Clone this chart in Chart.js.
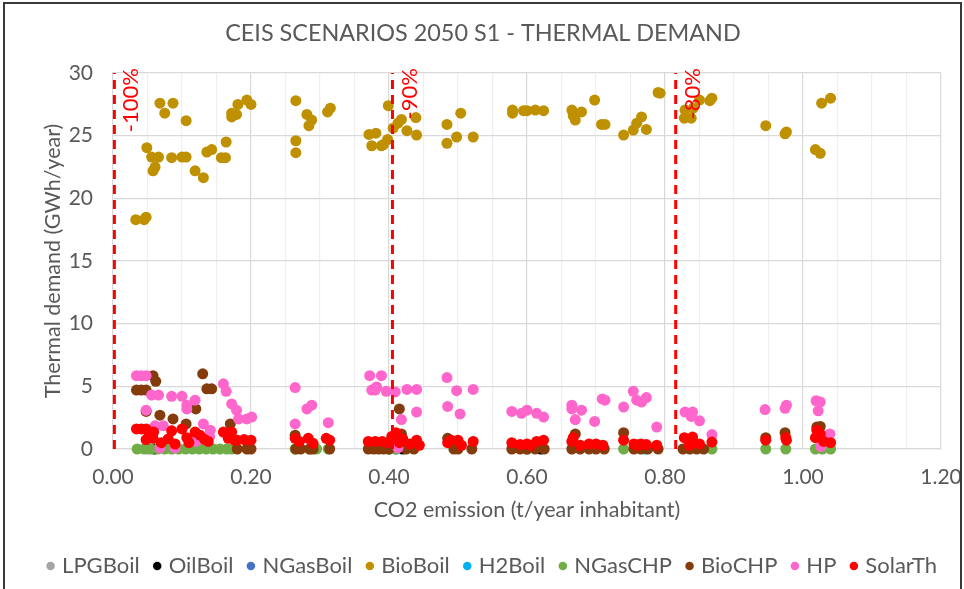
<!DOCTYPE html>
<html>
<head>
<meta charset="utf-8">
<script src="https://cdn.jsdelivr.net/npm/chart.js@4.4.1/dist/chart.umd.min.js"></script>
<style>
  html, body { margin: 0; padding: 0; background: #ffffff; }
  #wrap { position: absolute; left: 0; top: 0; width: 964px; height: 589px; }
</style>
</head>
<body>
<div id="wrap"><canvas id="c" width="964" height="589"></canvas></div>
<script>
// ---------- DATA ----------
const seriesNames = ['LPGBoil','OilBoil','NGasBoil','BioBoil','H2Boil','NGasCHP','BioCHP','HP','SolarTh'];

const lpgBoilX = [0.05, 0.40, 0.60];
const lpgBoilY = [0, 0, 0];
const oilBoilX = [0.06, 0.42, 0.62];
const oilBoilY = [0, 0, 0];
const nGasBoilX = [0.41];
const nGasBoilY = [0];
const h2BoilX = [0.771];
const h2BoilY = [0];

const bioBoilX = [0.033,0.045,0.048,0.049,0.056,0.066,0.061,0.058,0.068,0.075,0.087,0.085,0.100,0.106,0.106,0.119,0.131,0.136,0.143,0.157,0.163,0.164,0.172,0.179,0.172,0.181,0.194,0.200,
  0.265,0.281,0.288,0.284,0.265,0.265,0.311,0.315,0.371,0.381,0.375,0.389,0.398,0.399,0.392,0.406,0.413,0.418,0.426,0.439,0.440,
  0.484,0.484,0.504,0.498,0.522,0.579,0.579,0.595,0.600,0.612,0.624,0.665,0.667,0.670,0.679,0.698,0.708,0.713,0.740,0.754,0.759,0.766,0.773,0.790,0.793,
  0.828,0.838,0.829,0.841,0.850,0.865,0.868,0.946,0.974,0.976,1.018,1.025,1.027,1.040];
const bioBoilY = [18.3,18.3,18.5,24.05,23.3,23.3,22.5,22.2,27.6,26.8,27.6,23.25,23.3,23.3,26.2,22.2,21.65,23.7,23.9,23.25,23.25,24.5,26.5,26.7,26.8,27.5,27.85,27.5,
  27.8,26.7,26.25,25.8,24.6,23.65,26.9,27.2,25.1,25.2,24.2,24.2,24.7,27.4,24.3,25.6,26.0,26.3,25.4,26.45,25.05,
  25.9,24.4,26.8,24.9,24.9,27.05,26.8,27.0,27.0,27.05,27.0,27.05,26.6,26.25,26.9,27.85,25.9,25.9,25.05,25.45,26.0,26.5,25.5,28.45,28.4,
  26.4,26.4,27.05,27.2,27.85,27.8,28.0,25.8,25.15,25.3,23.9,23.6,27.6,28.0];

const nGasChpX = [0.035,0.045,0.055,0.065,0.075,0.085,0.095,0.105,0.115,0.125,0.135,0.145,0.155,0.165,0.172,0.264,0.285,0.295,0.312,0.40,0.41,0.60,0.74,0.868,0.946,0.975,1.018,1.028,1.040];
const nGasChpY = [0,0,0,0,0,0,0,0,0,0,0,0,0,0,0,0,0,0,0,0,0,0,0,0,0,0,0,0,0];

const bioChpX = [0.034,0.041,0.048,0.058,0.062,0.130,0.136,0.143,0.048,0.068,0.087,0.106,0.120,0.170,0.180,0.194,0.200,0.264,0.272,0.314,0.415,0.418,0.485,0.670,0.740,0.946,0.974,1.020,1.025,
  0.370,0.378,0.385,0.392,0.400,0.425,0.436,0.494,0.500,0.520,0.578,0.590,0.600,0.612,0.625,0.665,0.677,0.690,0.700,0.712,0.755,0.765,0.775,0.790,0.826,0.836,0.846,0.856,0.265,0.285,0.290];
const bioChpY = [4.7,4.7,4.7,5.85,5.4,6.0,4.8,4.8,3.0,2.7,2.4,2.0,3.2,2.0,0,0,0,1.1,0,0,3.2,1.2,0.85,1.2,1.3,0.9,1.3,1.75,1.8,
  0,0,0,0,0,0,0,0,0,0,0,0,0,0,0,0,0,0,0,0,0,0,0,0,0,0,0,0,0,0,0];

const hpX = [0.034,0.041,0.048,0.056,0.066,0.085,0.100,0.107,0.119,0.107,0.160,0.164,0.172,0.179,0.182,0.194,0.201,0.048,0.061,0.073,0.131,0.141,0.264,0.264,0.281,0.288,0.312,
  0.372,0.389,0.375,0.380,0.382,0.396,0.409,0.426,0.440,0.418,0.440,0.484,0.498,0.522,0.485,0.503,0.578,0.592,0.600,0.614,0.624,0.665,0.665,0.679,0.670,0.698,0.709,0.713,0.740,
  0.754,0.759,0.773,0.766,0.788,0.413,0.829,0.840,0.838,0.850,0.868,0.945,0.974,0.976,1.019,1.025,1.022,1.039,1.026,0.068,0.090,0.120,0.140];
const hpY = [5.85,5.85,5.85,4.3,4.3,4.2,4.2,3.5,3.9,3.2,5.2,4.6,3.6,3.1,2.4,2.4,2.55,3.1,1.85,1.85,2.0,1.5,4.9,2.0,3.2,3.5,2.1,
  5.85,5.85,4.7,4.7,4.95,4.6,4.55,4.75,4.75,2.35,2.95,5.7,4.65,4.75,3.4,2.8,3.0,2.85,3.1,2.85,2.55,3.5,3.2,3.1,2.35,2.2,4.0,3.9,3.35,
  4.6,3.9,4.1,3.75,1.75,0.1,2.95,2.95,2.6,2.25,1.15,3.15,3.25,3.5,3.85,3.75,3.05,1.2,0.2,0.1,0.1,0.6,1.0];

const solarThX = [0.034,0.041,0.048,0.052,0.059,0.058,0.048,0.085,0.100,0.107,0.119,0.126,0.133,0.138,0.160,0.167,0.172,0.176,0.180,0.190,0.200,0.264,0.270,0.283,0.290,0.309,0.314,
  0.370,0.380,0.070,0.080,0.090,0.110,0.390,0.398,0.404,0.410,0.415,0.420,0.430,0.440,0.444,0.485,0.490,0.500,0.505,0.522,0.578,0.590,0.600,0.605,0.614,0.624,
  0.665,0.667,0.677,0.690,0.700,0.710,0.740,0.755,0.760,0.765,0.773,0.788,0.828,0.840,0.842,0.850,0.835,0.868,0.946,0.975,0.976,1.020,1.025,1.018,1.030,1.040];
const solarThY = [1.6,1.6,1.6,1.3,1.35,0.85,0.75,1.45,1.6,0.9,1.35,1.1,0.75,0.6,1.35,0.85,1.35,0.7,0.7,0.75,0.7,0.85,0.6,0.85,0.45,0.85,0.7,
  0.6,0.6,0.5,0.8,0.4,0.5,0.6,0.5,1.0,1.3,0.5,0.8,0.4,0.7,0.3,0.5,0.7,0.7,0.3,0.6,0.5,0.35,0.4,0.3,0.6,0.7,
  0.6,0.9,0.3,0.4,0.4,0.3,0.7,0.4,0.3,0.4,0.35,0.3,0.9,0.95,0.5,0.4,0.3,0.55,0.7,0.9,0.7,1.5,1.2,0.9,0.6,0.5];

// reduction-target reference lines
const targetX = [0.002, 0.405, 0.8155];
const targetLabels = ['-100%', '-90%', '-80%'];

const xTickStep = 0.05;
const yTicks = [0, 5, 10, 15, 20, 25, 30];

// ---------- STYLE ----------
const colors = {
  LPGBoil: '#a5a5a5', OilBoil: '#000000', NGasBoil: '#4472c4', BioBoil: '#bf9000',
  H2Boil: '#00b0f0', NGasCHP: '#70ad47', BioCHP: '#843c0c', HP: '#ff66cc', SolarTh: '#ff0000'
};
const FONT = 'Lato, "Open Sans", sans-serif';
const TXT = '#595959';

function pts(xs, ys) { return xs.map((x, i) => ({ x: x, y: ys[i] })); }

const seriesData = {
  LPGBoil: pts(lpgBoilX, lpgBoilY), OilBoil: pts(oilBoilX, oilBoilY), NGasBoil: pts(nGasBoilX, nGasBoilY),
  BioBoil: pts(bioBoilX, bioBoilY), H2Boil: pts(h2BoilX, h2BoilY), NGasCHP: pts(nGasChpX, nGasChpY),
  BioCHP: pts(bioChpX, bioChpY), HP: pts(hpX, hpY), SolarTh: pts(solarThX, solarThY)
};

const datasets = seriesNames.map((name, i) => ({
  label: name,
  data: seriesData[name],
  backgroundColor: colors[name],
  borderColor: colors[name],
  pointRadius: 5.5,
  pointHoverRadius: 5.5,
  pointBorderWidth: 0,
  showLine: false,
  clip: false,
  order: seriesNames.length - i + 1
}));

targetX.forEach((tx, i) => {
  datasets.push({
    type: 'line',
    label: '__target' + i,
    data: [{ x: tx, y: 0 }, { x: tx, y: 30 }],
    borderColor: '#ff0000',
    borderWidth: 3,
    borderDash: [9, 6],
    pointRadius: 0,
    fill: false,
    clip: false,
    order: 0
  });
});

const frame = {
  id: 'frame',
  afterDraw(chart) {
    const ctx = chart.ctx;
    ctx.save();
    ctx.strokeStyle = '#3a3a3a';
    ctx.lineWidth = 2;
    ctx.strokeRect(4, 3, 957, 620);
    ctx.restore();
  }
};

const targetText = {
  id: 'targetText',
  afterDatasetsDraw(chart) {
    const ctx = chart.ctx;
    const xs = chart.scales.x, ys = chart.scales.y;
    ctx.save();
    ctx.fillStyle = '#ff0000';
    ctx.font = '22px ' + FONT;
    ctx.textAlign = 'right';
    ctx.textBaseline = 'middle';
    targetX.forEach((tx, i) => {
      const px = xs.getPixelForValue(tx) + 17;
      const py = ys.getPixelForValue(30) - 5;
      ctx.save();
      ctx.translate(px, py);
      ctx.rotate(-Math.PI / 2);
      ctx.fillText(targetLabels[i], 0, 0);
      ctx.restore();
    });
    ctx.restore();
  }
};

new Chart(document.getElementById('c'), {
  type: 'scatter',
  data: { datasets: datasets },
  plugins: [frame, targetText],
  options: {
    responsive: false,
    animation: false,
    layout: { padding: { left: 12, right: 10, top: 0, bottom: 2 } },
    plugins: {
      title: {
        display: true,
        text: 'CEIS SCENARIOS 2050 S1 - THERMAL DEMAND',
        color: TXT,
        font: { family: FONT, size: 23.4, weight: 'normal' },
        padding: { top: 19, bottom: 26 }
      },
      legend: {
        position: 'bottom',
        align: 'end',
        labels: {
          filter: (item) => !item.text.startsWith('__'),
          sort: (a, b) => a.datasetIndex - b.datasetIndex,
          usePointStyle: true,
          pointStyle: 'circle',
          boxWidth: 1,
          boxHeight: 6,
          padding: 17,
          color: TXT,
          font: { family: FONT, size: 22 }
        }
      },
      tooltip: { enabled: false }
    },
    scales: {
      x: {
        type: 'linear',
        min: 0, max: 1.2,
        afterBuildTicks: (scale) => {
          const t = [];
          for (let k = 0; k <= 24; k++) t.push({ value: +(k * xTickStep).toFixed(2) });
          scale.ticks = t;
        },
        afterFit: (scale) => { scale.height = 89; scale.paddingLeft = 0; scale.paddingRight = 23; },
        ticks: {
          autoSkip: false,
          maxRotation: 0,
          padding: 16,
          color: TXT,
          font: { family: FONT, size: 21 },
          callback: (v) => (Math.abs(v / 0.2 - Math.round(v / 0.2)) < 1e-6) ? v.toFixed(2) : ''
        },
        grid: {
          drawTicks: false,
          color: (c) => {
            const v = c.tick ? c.tick.value : 0;
            return (Math.abs(v / 0.2 - Math.round(v / 0.2)) < 1e-6) ? '#d9d9d9' : '#efefef';
          },
          lineWidth: 1.2
        },
        border: { color: '#d9d9d9', width: 1.2 },
        title: {
          display: true,
          text: 'CO2 emission (t/year inhabitant)',
          color: TXT,
          font: { family: FONT, size: 21.5 },
          padding: { top: 6, bottom: 15 }
        }
      },
      y: {
        type: 'linear',
        min: 0, max: 30,
        afterBuildTicks: (scale) => { scale.ticks = yTicks.map(v => ({ value: v })); },
        afterFit: (scale) => { scale.width = 101; },
        ticks: {
          padding: 20,
          color: TXT,
          font: { family: FONT, size: 21 }
        },
        grid: { drawTicks: false, color: '#d9d9d9', lineWidth: 1.2 },
        border: { color: '#d9d9d9', width: 1.2 },
        title: {
          display: true,
          text: 'Thermal demand (GWh/year)',
          color: TXT,
          font: { family: FONT, size: 21.5 },
          padding: { top: 28, bottom: 0 }
        }
      }
    }
  }
});
</script>
</body>
</html>
